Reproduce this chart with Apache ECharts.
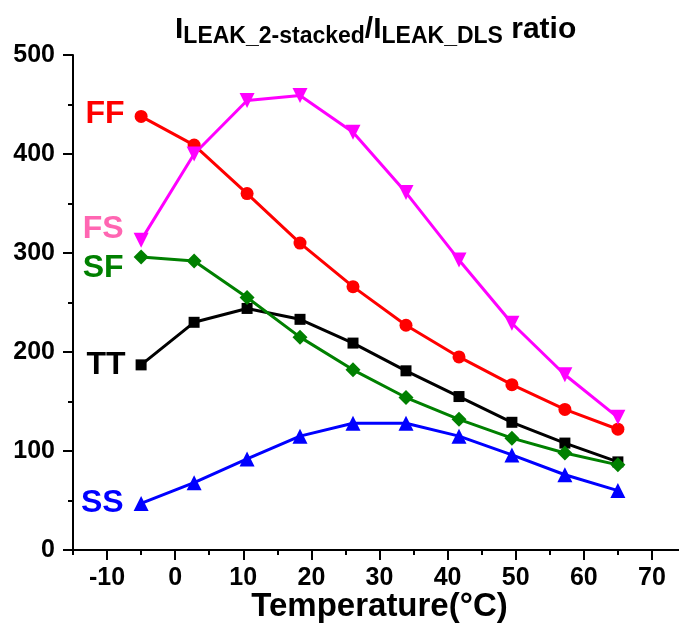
<!DOCTYPE html>
<html>
<head>
<meta charset="utf-8">
<script src="https://cdn.jsdelivr.net/npm/echarts@6/dist/echarts.min.js"></script>
<style>html,body{margin:0;padding:0;background:#fff}#c{width:679px;height:630px}</style>
</head>
<body>
<div id="c"></div>
<script>
var temps = [-5, 2.78, 10.56, 18.33, 26.11, 33.89, 41.67, 49.44, 57.22, 65];
var FF = [438, 409, 360, 310, 266, 227, 195, 167, 142, 122];
var FS = [313, 400, 454, 459, 422, 361, 293, 229, 177, 134];
var SF = [296, 292, 255, 215, 182, 154, 132, 113, 98, 86];
var TT = [187, 230, 244, 233, 209, 181, 155, 129, 108, 89];
var SS = [47, 68, 92, 115, 128, 128, 115, 96, 76, 60];
var xTicks = [-10, 0, 10, 20, 30, 40, 50, 60, 70];
var yTicks = [0, 100, 200, 300, 400, 500];

var FONT = '"Liberation Sans", Arial, sans-serif';

function mk(name, vals, color, labelColor, symbol, size, rotate, offset) {
  var data = vals.map(function (v, i) {
    var d = { value: [temps[i], v] };
    if (i === 0) {
      d.label = {
        show: true, position: 'left', distance: 10, offset: offset,
        formatter: name, color: labelColor, fontSize: 32, fontWeight: 'bold', fontFamily: FONT
      };
    }
    return d;
  });
  return {
    name: name, type: 'line', data: data, xAxisIndex: 0, yAxisIndex: 0,
    symbol: symbol, symbolSize: size, symbolRotate: rotate || 0,
    lineStyle: { color: color, width: 3 },
    itemStyle: { color: color },
    z: 3
  };
}

var axisText = { fontSize: 25, fontWeight: 'bold', fontFamily: FONT, color: '#000' };

var chart = echarts.init(document.getElementById('c'), null, { renderer: 'canvas' });
chart.setOption({
  animation: false,
  backgroundColor: '#fff',
  title: {
    text: '{m|I}{s|LEAK_2-stacked}{m|/I}{s|LEAK_DLS}{m| ratio}',
    left: 170, top: 10,
    textStyle: {
      rich: {
        m: { fontSize: 30, fontWeight: 'bold', fontFamily: FONT, color: '#000', lineHeight: 30, verticalAlign: 'top' },
        s: { fontSize: 23, fontWeight: 'bold', fontFamily: FONT, color: '#000', lineHeight: 23, padding: [13, 0, 0, 0] }
      }
    }
  },
  grid: { left: 73, top: 55, bottom: 80, right: -7, containLabel: false, outerBoundsMode: 'none' },
  xAxis: [{
    type: 'value', min: -15, max: 75, interval: 5,
    name: 'Temperature(°C)', nameLocation: 'middle', nameGap: 40,
    nameTextStyle: { fontSize: 33, fontWeight: 'bold', fontFamily: FONT, color: '#000' },
    axisLine: { onZero: false, lineStyle: { color: '#000', width: 2 } },
    axisTick: { show: true, length: 5, lineStyle: { color: '#000', width: 2 } },
    axisLabel: { show: false },
    splitLine: { show: false }
  }, {
    type: 'value', min: -15, max: 75, position: 'bottom',
    axisLine: { show: false, onZero: false },
    axisTick: { show: true, length: 10, customValues: xTicks, lineStyle: { color: '#000', width: 2 } },
    axisLabel: Object.assign({ margin: 16, customValues: xTicks }, axisText),
    splitLine: { show: false }
  }],
  yAxis: [{
    type: 'value', min: 0, max: 500, interval: 50,
    axisLine: { show: true, onZero: false, lineStyle: { color: '#000', width: 2 } },
    axisTick: { show: true, length: 5, lineStyle: { color: '#000', width: 2 } },
    axisLabel: { show: false },
    splitLine: { show: false }
  }, {
    type: 'value', min: 0, max: 500, interval: 100, position: 'left',
    axisLine: { show: false, onZero: false },
    axisTick: { show: true, length: 10, lineStyle: { color: '#000', width: 2 } },
    axisLabel: Object.assign({ margin: 18 }, axisText),
    splitLine: { show: false }
  }],
  series: [
    mk('SS', SS, '#0000ff', '#0000ff', 'triangle', 15, 0, [0, 0]),
    mk('TT', TT, '#000000', '#000000', 'rect', 11, 0, [0, 0]),
    mk('SF', SF, '#008000', '#008000', 'diamond', 15, 0, [0, 11]),
    mk('FF', FF, '#ff0000', '#ff0000', 'circle', 13, 0, [0, -2]),
    mk('FS', FS, '#ff00ff', '#ff66b2', 'triangle', 15, 180, [0, -11])
  ]
});
</script>
</body>
</html>
